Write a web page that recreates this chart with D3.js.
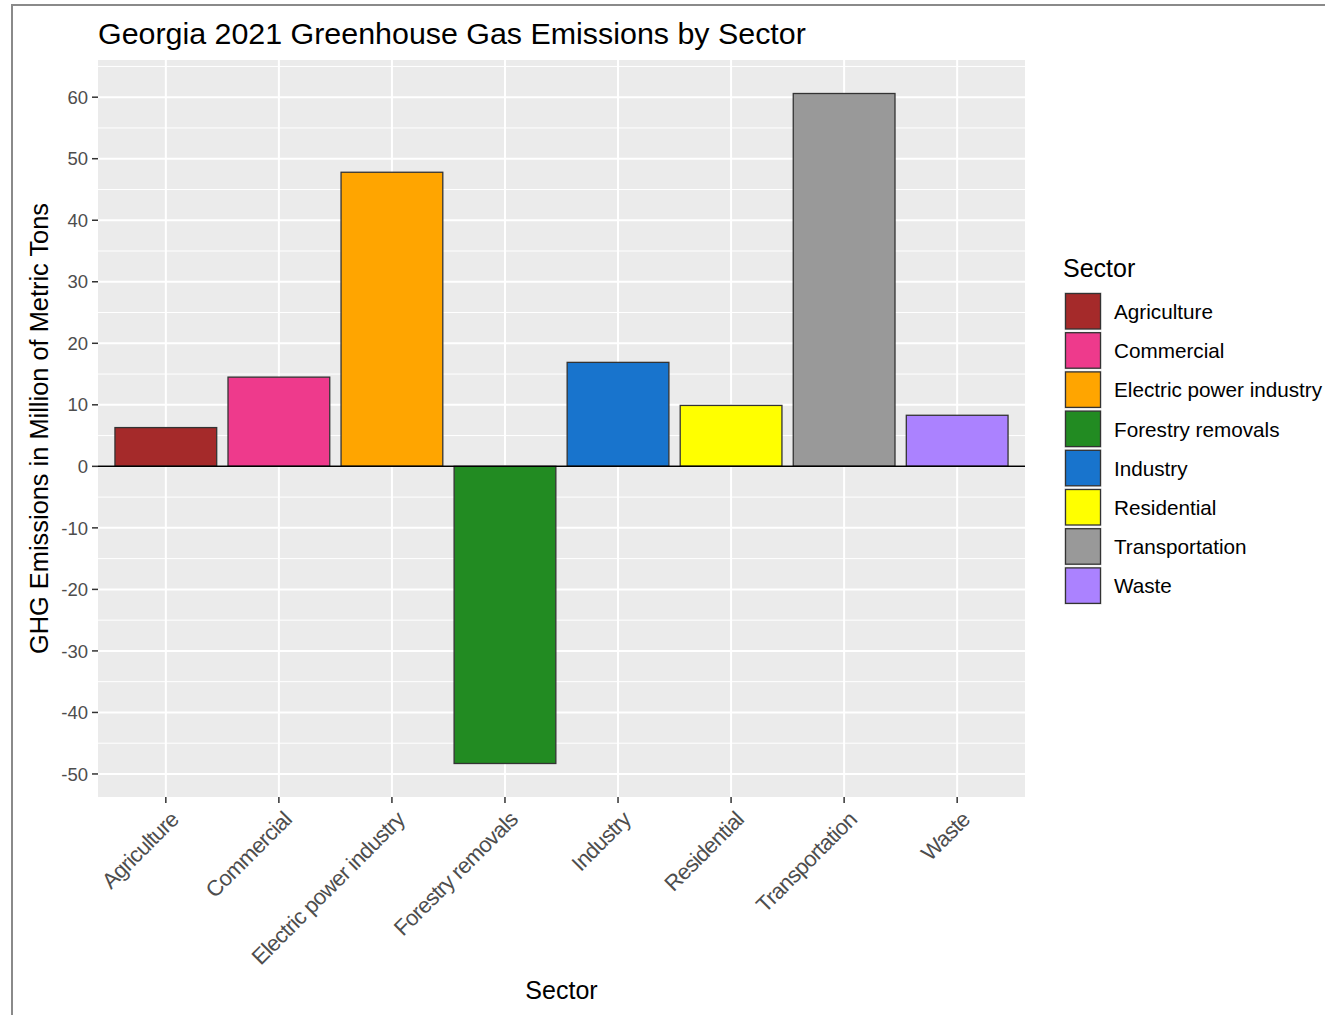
<!DOCTYPE html>
<html><head><meta charset="utf-8">
<script src="https://cdn.jsdelivr.net/npm/d3@7"></script>
<style>body{margin:0;background:#fff;} text{font-family:"Liberation Sans",Arial,sans-serif;}</style>
</head><body>
<svg id="c" width="1325" height="1015"></svg>
<script>
const sectors = ["Agriculture","Commercial","Electric power industry","Forestry removals","Industry","Residential","Transportation","Waste"];
const emissions = [6.3, 14.5, 47.8, -48.3, 16.9, 9.9, 60.6, 8.3];
const colors = ["#A52A2A","#EE3A8C","#FFA500","#228B22","#1874CD","#FFFF00","#999999","#AB82FF"];
const yTicks = [-50,-40,-30,-20,-10,0,10,20,30,40,50,60];
const yMinor = [-45,-35,-25,-15,-5,5,15,25,35,45,55,65];

const svg = d3.select("#c");
svg.append("rect").attr("x",12).attr("y",5).attr("width",1330).attr("height",1030)
  .attr("fill","none").attr("stroke","#8a8a8a").attr("stroke-width",2);

const L=98,R=1025,T=60,B=797;
const ext=[d3.min(emissions),d3.max(emissions)], span=ext[1]-ext[0];
const y=d3.scaleLinear().domain([ext[0]-0.05*span, ext[1]+0.05*span]).range([B,T]);
// ggplot-like discrete positions
const xc=d3.scaleLinear().domain([0.4, sectors.length+0.6]).range([L,R]);
const bw = xc(1.45)-xc(1);

svg.append("rect").attr("x",L).attr("y",T).attr("width",R-L).attr("height",B-T).attr("fill","#EBEBEB");
const g=svg.append("g");
yMinor.filter(v=>y(v)>=T&&y(v)<=B).forEach(v=>g.append("line").attr("x1",L).attr("x2",R).attr("y1",y(v)).attr("y2",y(v)).attr("stroke","#fff").attr("stroke-width",1));
yTicks.forEach(v=>g.append("line").attr("x1",L).attr("x2",R).attr("y1",y(v)).attr("y2",y(v)).attr("stroke","#fff").attr("stroke-width",2));
sectors.forEach((s,i)=>g.append("line").attr("x1",xc(i+1)).attr("x2",xc(i+1)).attr("y1",T).attr("y2",B).attr("stroke","#fff").attr("stroke-width",2));

svg.selectAll("rect.bar").data(sectors).enter().append("rect").attr("class","bar")
  .attr("x",(d,i)=>xc(i+1)-bw).attr("width",2*bw)
  .attr("y",(d,i)=>y(Math.max(0,emissions[i]))).attr("height",(d,i)=>Math.abs(y(emissions[i])-y(0)))
  .attr("fill",(d,i)=>colors[i]).attr("stroke","#333").attr("stroke-width",1.3);

svg.append("line").attr("x1",L).attr("x2",R).attr("y1",y(0)).attr("y2",y(0)).attr("stroke","#000").attr("stroke-width",1.5);

// y axis
yTicks.forEach(v=>{
  svg.append("line").attr("x1",L-6).attr("x2",L).attr("y1",y(v)).attr("y2",y(v)).attr("stroke","#333").attr("stroke-width",1.5);
  svg.append("text").attr("x",L-10).attr("y",y(v)).attr("dy","0.36em").attr("text-anchor","end")
    .attr("font-size",18.5).attr("fill","#4d4d4d").text(v);
});
// x axis
sectors.forEach((s,i)=>{
  const cx=xc(i+1);
  svg.append("line").attr("x1",cx).attr("x2",cx).attr("y1",B).attr("y2",B+6).attr("stroke","#333").attr("stroke-width",1.5);
  svg.append("text").attr("transform",`translate(${cx+14},${B+24}) rotate(-45)`).attr("text-anchor","end")
    .attr("font-size",22).attr("letter-spacing",-0.7).attr("fill","#4d4d4d").text(s);
});

svg.append("text").attr("x",98).attr("y",44).attr("font-size",30.4).attr("fill","#000").text("Georgia 2021 Greenhouse Gas Emissions by Sector");
svg.append("text").attr("transform",`translate(48,${(T+B)/2}) rotate(-90)`).attr("text-anchor","middle")
  .attr("font-size",25.4).attr("fill","#000").text("GHG Emissions in Million of Metric Tons");
svg.append("text").attr("x",(L+R)/2).attr("y",999).attr("text-anchor","middle").attr("font-size",25).attr("fill","#000").text("Sector");

// legend
const lg=svg.append("g");
lg.append("text").attr("x",1063).attr("y",277).attr("font-size",25).attr("fill","#000").text("Sector");
sectors.forEach((s,i)=>{
  const ty=292+i*39.2;
  lg.append("rect").attr("x",1064).attr("y",ty).attr("width",38).attr("height",38.5).attr("fill","#F2F2F2");
  lg.append("rect").attr("x",1065.5).attr("y",ty+1.5).attr("width",35).attr("height",35.5).attr("fill",colors[i]).attr("stroke","#333").attr("stroke-width",1.3);
  lg.append("text").attr("x",1114).attr("y",ty+19.5).attr("dy","0.36em").attr("font-size",20.7).attr("fill","#000").text(s);
});
</script>
</body></html>
